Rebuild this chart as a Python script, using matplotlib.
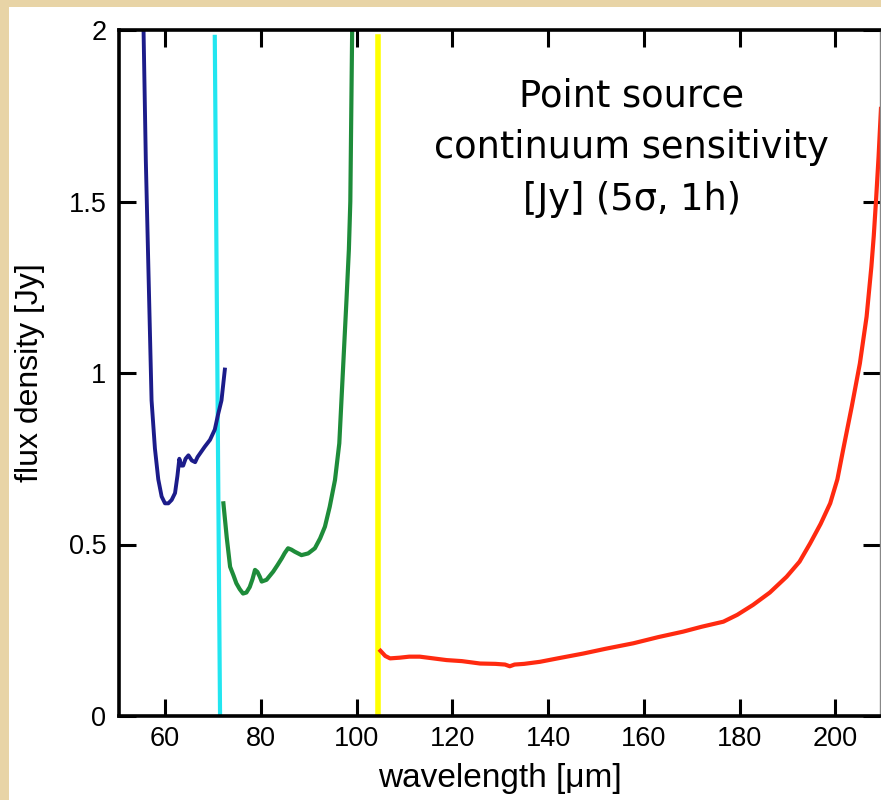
import matplotlib
matplotlib.use("Agg")
import matplotlib.pyplot as plt
from matplotlib.patches import Rectangle

# PACS-like spectrometer sensitivity curves
blue_x = [55.5, 56.0, 56.7, 57.2, 57.9, 58.6, 59.3, 60.0, 60.7, 61.4, 62.1, 62.6,
          63.0, 63.4, 63.8, 64.3, 64.9, 65.6, 66.3, 66.8, 67.3, 68.3, 69.4, 70.4,
          71.1, 71.8, 72.5]
blue_y = [2.02, 1.62, 1.21, 0.92, 0.78, 0.69, 0.64, 0.62, 0.62, 0.63, 0.65, 0.70,
          0.75, 0.73, 0.73, 0.75, 0.76, 0.745, 0.74, 0.755, 0.765, 0.785, 0.805, 0.835,
          0.88, 0.92, 1.01]

green_x = [72.2, 72.9, 73.6, 74.3, 74.9, 75.6, 76.3, 77.0, 77.7, 78.3, 78.8, 79.3,
           79.8, 80.2, 81.2, 82.6, 83.5, 84.4, 85.0, 85.7, 86.4, 87.1, 88.5, 89.9,
           91.3, 92.4, 93.4, 94.4, 95.5, 96.4, 97.2, 97.9, 98.4, 98.7, 99.1]
green_y = [0.62, 0.52, 0.435, 0.41, 0.387, 0.37, 0.357, 0.36, 0.376, 0.40, 0.426, 0.42,
           0.406, 0.392, 0.397, 0.421, 0.44, 0.46, 0.475, 0.489, 0.485, 0.479, 0.469, 0.474,
           0.489, 0.518, 0.552, 0.61, 0.688, 0.795, 1.018, 1.213, 1.36, 1.50, 2.02]

red_x = [105.0, 106.0, 107.0, 109.0, 111.0, 113.2, 116.0, 118.8, 122.0, 125.8, 129.0,
         131.0, 132.0, 133.0, 135.0, 138.3, 142.0, 147.3, 152.0, 157.8, 163.0, 168.2,
         172.0, 176.6, 179.5, 182.8, 186.3, 189.8, 192.5, 194.7, 196.9, 198.9, 200.4,
         201.6, 203.4, 205.1, 206.5, 207.5, 208.0, 208.5, 209.0, 209.5]
red_y = [0.19, 0.175, 0.168, 0.17, 0.173, 0.173, 0.168, 0.163, 0.16, 0.153, 0.152,
         0.15, 0.145, 0.15, 0.152, 0.158, 0.168, 0.182, 0.196, 0.212, 0.23, 0.246,
         0.26, 0.275, 0.295, 0.324, 0.36, 0.406, 0.45, 0.503, 0.56, 0.62, 0.69,
         0.776, 0.902, 1.028, 1.164, 1.31, 1.40, 1.51, 1.63, 1.77]

# band edge markers
cyan_x = [70.4, 71.5]
cyan_y = [1.98, 0.0]
yellow_x = [104.5, 104.5]
yellow_y = [1.98, 0.0]

x_ticks = [60, 80, 100, 120, 140, 160, 180, 200]
y_ticks = [0, 0.5, 1, 1.5, 2]
y_ticklabels = ["0", "0.5", "1", "1.5", "2"]

fig = plt.figure(figsize=(8.81, 8), dpi=100, facecolor="#e8d4a6")
fig.patches.append(Rectangle((9 / 881, 0), 1, 793 / 800, transform=fig.transFigure,
                             facecolor="white", edgecolor="none", zorder=-10))

ax = fig.add_axes([119 / 881, 84 / 800, 761 / 881, 686 / 800])
ax.set_facecolor("white")

ax.plot(cyan_x, cyan_y, color="#22e6f0", lw=3)
ax.plot(yellow_x, yellow_y, color="#ffff00", lw=4)
ax.plot(blue_x, blue_y, color="#1c1c8a", lw=2.8)
ax.plot(green_x, green_y, color="#1e8c3a", lw=3)
ax.plot(red_x, red_y, color="#ff2a10", lw=3)

ax.set_xlim(50.4, 209.3)
ax.set_ylim(0, 2)

ax.set_xticks(x_ticks)
ax.set_xticklabels([str(v) for v in x_ticks], fontfamily="Liberation Sans", fontsize=19.5)
ax.set_yticks(y_ticks)
ax.set_yticklabels(y_ticklabels, fontfamily="Liberation Sans", fontsize=19.5)
ax.tick_params(direction="in", length=12, width=2.2, top=True, right=True,
               color="black", pad=7)
ax.tick_params(axis="y", pad=9)

for side in ["left", "bottom", "top"]:
    ax.spines[side].set_linewidth(2.6)
ax.spines["right"].set_linewidth(1)
ax.spines["right"].set_color("#888888")

ax.set_xlabel("wavelength [\u03bcm]", fontfamily="Liberation Sans", fontsize=24, va="center")
ax.xaxis.set_label_coords(0.5, (716 - 778) / 686)
ax.set_ylabel("flux density [Jy]", fontfamily="Liberation Sans", fontsize=23, va="center")
ax.yaxis.set_label_coords((30 - 119) / 761, 0.5)

ax.text(157.5, 1.656, "Point source\ncontinuum sensitivity\n[Jy] (5\u03c3, 1h)",
        ha="center", va="center", multialignment="center",
        fontfamily="DejaVu Sans", fontsize=26.5, linespacing=1.5)

fig.savefig("out.png", dpi=100, facecolor=fig.get_facecolor())
